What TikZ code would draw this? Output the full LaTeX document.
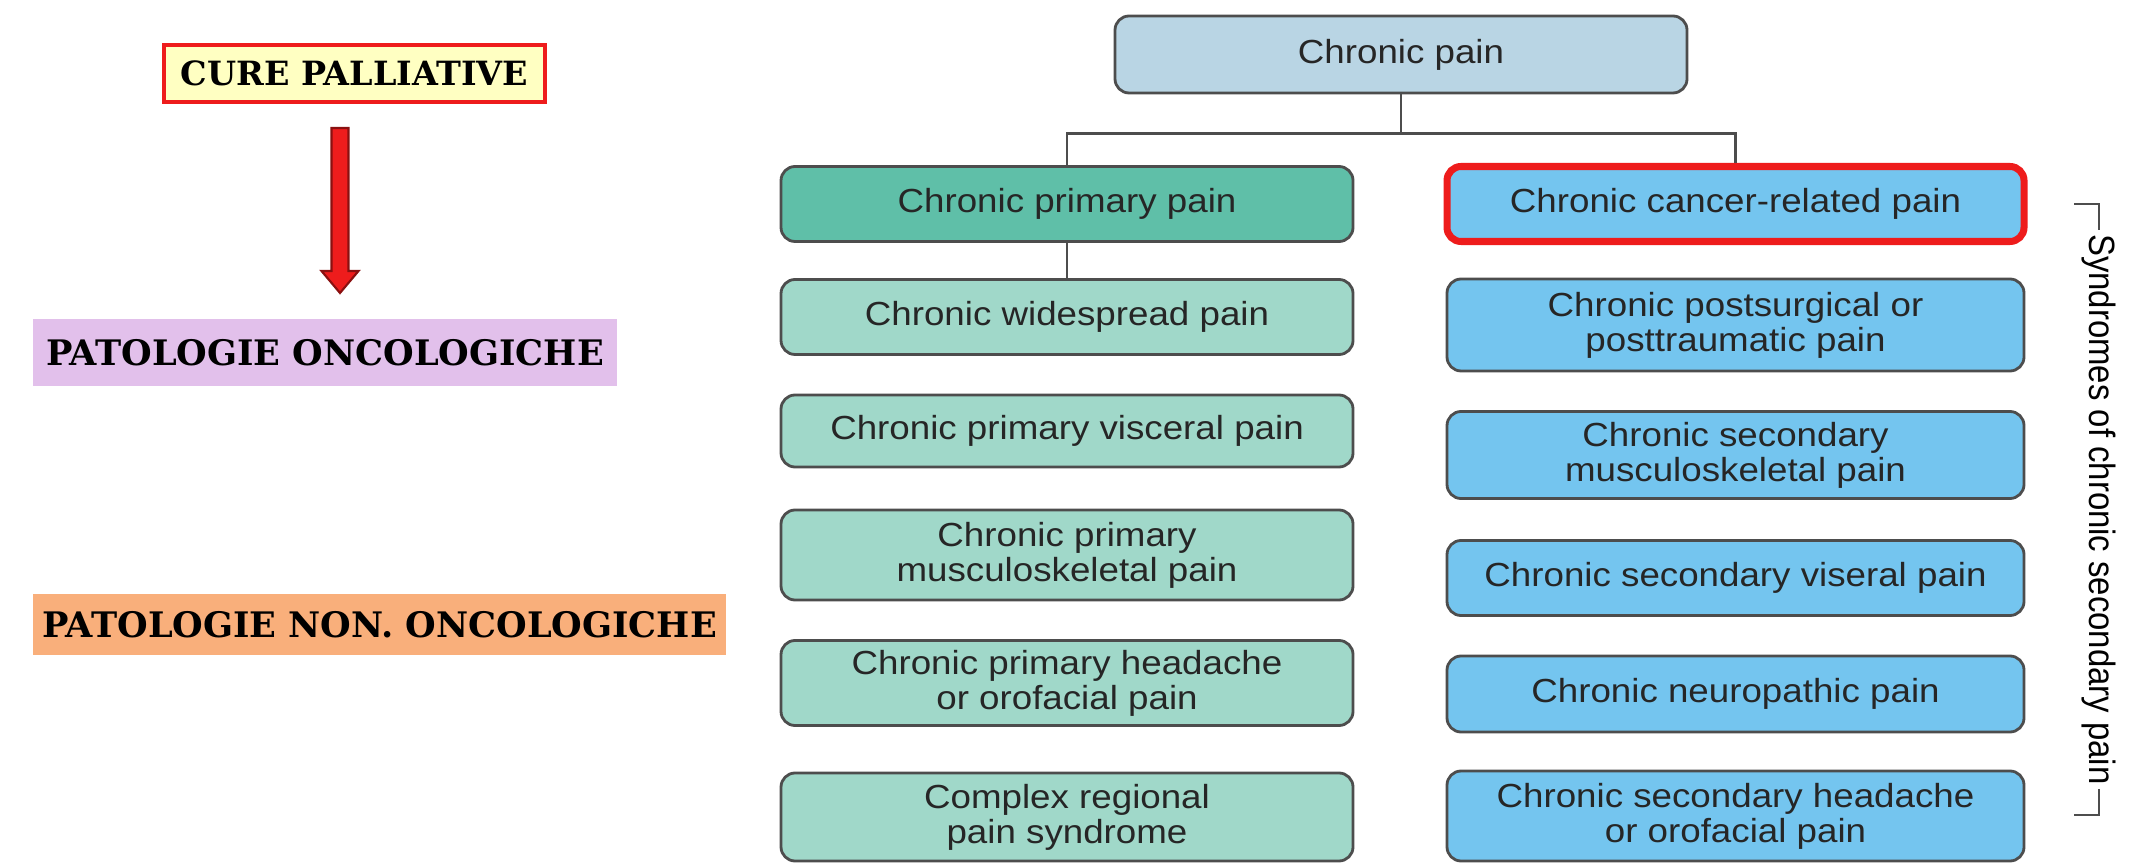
\documentclass[tikz,border=0pt]{standalone}
\usepackage{fontspec}
\setmainfont{Liberation Sans}[FakeStretch=1.1]
\newfontfamily\slabfont{DejaVu Serif}
\newfontfamily\narrowfont{Liberation Sans}[FakeStretch=0.9]
\usetikzlibrary{arrows.meta, positioning, calc}
\definecolor{cpgrey}{HTML}{4D4D4D}
\definecolor{cproot}{HTML}{B9D5E4}
\definecolor{cpteal}{HTML}{5FBFA8}
\definecolor{cpmint}{HTML}{A0D8C9}
\definecolor{cpsky}{HTML}{74C5EF}
\definecolor{cpred}{HTML}{EE1C1C}
\definecolor{cpdarkred}{HTML}{8A1010}
\definecolor{cpyellow}{HTML}{FFFFC2}
\definecolor{cplilac}{HTML}{E2C0EB}
\definecolor{cppeach}{HTML}{F9AF7B}

\begin{document}
\begin{tikzpicture}[font=\fontsize{9.5}{10}\selectfont,
      blk/.style={draw=cpgrey, line width=0.8pt, rounded corners=4pt, inner sep=2pt, align=center, text=black!85, minimum height=0.75cm},
      lcol/.style={blk, fill=cpmint, minimum width=5.72cm},
      rcol/.style={blk, fill=cpsky, minimum width=5.77cm},
      tag/.style={font=\slabfont\bfseries\fontsize{10}{12}\selectfont, inner sep=2pt},
      link/.style={draw=cpgrey, line width=0.7pt}]
      \path[use as bounding box, fill=white] (0,0) rectangle (21.37,8.66);
      % left side
      \node[tag, draw=cpred, line width=1.2pt, fill=cpyellow, minimum width=3.81cm, minimum height=0.57cm, font=\slabfont\bfseries\fontsize{9.5}{11}\selectfont] (cure) at (3.545,7.925) {CURE PALLIATIVE};
      \node[tag, fill=cplilac, minimum width=5.84cm, minimum height=0.67cm] (onco) at (3.25,5.135) {PATOLOGIE ONCOLOGICHE};
      \node[tag, fill=cppeach, minimum width=6.93cm, minimum height=0.61cm] (nononco) at (3.795,2.415) {PATOLOGIE NON. ONCOLOGICHE};
      \coordinate (atop) at (3.40,7.38); \coordinate (atip) at (3.40,5.73);
      \draw[draw=cpdarkred, fill=cpred, line width=0.6pt] ($(atop)+(-0.085,0)$) -- ($(atop)+(0.085,0)$) -- ($(atip)+(0.085,0.22)$) -- ($(atip)+(0.185,0.22)$)
        -- (atip) -- ($(atip)+(-0.185,0.22)$) -- ($(atip)+(-0.085,0.22)$) -- cycle;
      % tree
      \node[blk, fill=cproot, minimum width=5.72cm, minimum height=0.77cm] (root) at (14.01,8.115) {Chronic pain};
      \node[blk, fill=cpteal, minimum width=5.72cm] (prim) at (10.67,6.62) {Chronic primary pain};
      \node[rcol, draw=cpred, line width=2pt] (canc) at (17.355,6.62) {Chronic cancer-related pain};
      \node[lcol] (wide) at (10.67,5.49) {Chronic widespread pain};
      \node[lcol, minimum height=0.72cm] (visc) at (10.67,4.35) {Chronic primary visceral pain};
      \node[lcol, minimum height=0.90cm] (musc) at (10.67,3.11) {Chronic primary\\musculoskeletal pain};
      \node[lcol, minimum height=0.85cm] (head) at (10.67,1.83) {Chronic primary headache\\or orofacial pain};
      \node[lcol, minimum height=0.88cm] (crps) at (10.67,0.49) {Complex regional\\pain syndrome};
      \node[rcol, minimum height=0.92cm] (post) at (17.355,5.41) {Chronic postsurgical or\\posttraumatic pain};
      \node[rcol, minimum height=0.87cm] (smusc) at (17.355,4.11) {Chronic secondary\\musculoskeletal pain};
      \node[rcol] (svisc) at (17.355,2.88) {Chronic secondary viseral pain};
      \node[rcol, minimum height=0.76cm] (neuro) at (17.355,1.72) {Chronic neuropathic pain};
      \node[rcol, minimum height=0.90cm] (shead) at (17.355,0.50) {Chronic secondary headache\\or orofacial pain};
      \coordinate (fork) at ($(root.south)+(0,-0.39)$);
      \draw[link] (root.south) -- (fork); \draw[link] (fork) -| (prim.north); \draw[link] (fork) -| (canc.north);
      \draw[link] (prim.south) -- (wide.north);
      % bracket
      \coordinate (btop) at (20.99,6.62); \coordinate (bbot) at (20.99,0.51);
      \node[rotate=-90, inner sep=1pt, font=\narrowfont\fontsize{10.4}{12}\selectfont] (synd) at ($(btop)!0.5!(bbot)$) {Syndromes of chronic secondary pain};
      \draw[link] ($(btop)+(-0.25,0)$) -- (btop) -- (synd.west);
      \draw[link] (synd.east) -- (bbot) -- ++(-0.25,0);
    \end{tikzpicture}
\end{document}
